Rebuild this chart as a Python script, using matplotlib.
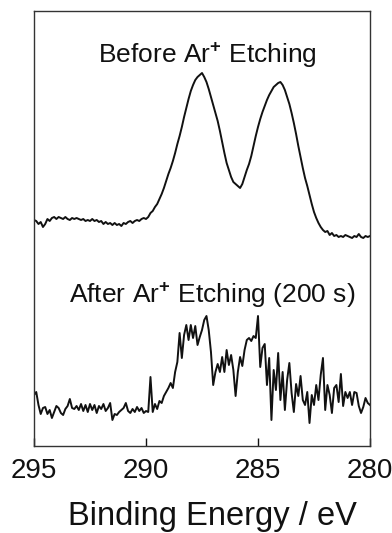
import numpy as np
import matplotlib
matplotlib.use("Agg")
import matplotlib.pyplot as plt

plt.rcParams['font.family'] = ['Liberation Sans', 'DejaVu Sans']
plt.rcParams['mathtext.fontset'] = 'custom'
plt.rcParams['mathtext.rm'] = 'Liberation Sans'
plt.rcParams['mathtext.bf'] = 'Liberation Sans:bold'
plt.rcParams['mathtext.default'] = 'regular'

# Binding energy grid (eV), 295 -> 280 in 0.1 eV steps
binding_energy = np.round(np.linspace(295.0, 280.0, 151), 2)

# Intensities (arbitrary units)
before_etching = [
    226, 225, 222, 224, 219, 222, 227, 225, 228, 229,
    227, 229, 228, 227, 229, 227, 226, 228, 227, 228,
    227, 226, 227, 225, 226, 225, 227, 225, 226, 224,
    225, 222, 224, 222, 223, 221, 223, 221, 222, 220,
    223, 222, 224, 225, 223, 225, 226, 225, 227, 228,
    227, 229, 233, 235, 239, 242, 247, 252, 258, 265,
    272, 278, 285, 293, 302, 310, 319, 329, 338, 347,
    355, 361, 366, 369, 371, 373, 369, 364, 357, 349,
    341, 333, 325, 315, 304, 293, 283, 276, 269, 264,
    262, 260, 258, 262, 269, 276, 282, 290, 300, 310,
    319, 327, 334, 340, 346, 351, 355, 359, 361, 363,
    364, 361, 356, 349, 342, 333, 323, 312, 300, 289,
    278, 268, 260, 251, 242, 234, 228, 223, 219, 216,
    214, 215, 211, 213, 210, 211, 209, 210, 209, 211,
    210, 209, 208, 210, 209, 212, 209, 208, 210, 209,
    210,
]

after_etching = [
    51, 54, 41, 32, 38, 39, 32, 36, 28, 34,
    40, 38, 33, 31, 37, 40, 47, 38, 37, 40,
    36, 42, 35, 41, 34, 42, 36, 41, 33, 40,
    37, 42, 35, 38, 43, 26, 32, 31, 34, 36,
    38, 43, 35, 33, 37, 34, 39, 35, 38, 33,
    35, 34, 69, 34, 42, 37, 45, 43, 50, 54,
    58, 63, 58, 74, 84, 113, 88, 111, 121, 106,
    121, 108, 120, 101, 109, 116, 126, 130, 116, 94,
    61, 74, 82, 74, 89, 74, 96, 81, 91, 76,
    50, 74, 89, 80, 96, 106, 108, 105, 110, 108,
    130, 79, 98, 102, 61, 88, 26, 76, 56, 93,
    46, 74, 36, 66, 83, 53, 34, 62, 50, 70,
    46, 41, 54, 23, 51, 41, 61, 46, 71, 88,
    36, 61, 51, 33, 58, 61, 44, 72, 40, 54,
    48, 54, 41, 54, 53, 40, 33, 39, 48, 43,
    41,
]

x_ticks = [295, 290, 285, 280]
x_tick_labels = ["295", "290", "285", "280"]
label_before = "Before Ar$^{\\mathbf{+}}$ Etching"
label_after = "After Ar$^{\\mathbf{+}}$ Etching (200 s)"
x_label = "Binding Energy / eV"

W, H = 392, 533
fig = plt.figure(figsize=(W / 100, H / 100), dpi=100)
ax = fig.add_axes([34 / W, 1 - 446 / H, (370 - 34) / W, (446 - 11) / H])

ax.plot(binding_energy, before_etching, color='#111111', lw=1.4)
ax.plot(binding_energy, after_etching, color='#111111', lw=1.4)

ax.set_xlim(295, 280)
ax.set_ylim(0, 435)
ax.set_yticks([])
ax.set_xticks(x_ticks)
ax.set_xticklabels(x_tick_labels, fontsize=20)
ax.tick_params(axis='x', direction='in', length=6, width=1.0, pad=9,
               colors='#111111', labelcolor='#111111')
for s in ax.spines.values():
    s.set_linewidth(1.0)
    s.set_color('#333333')

ax.text((207 - 34) / (370 - 34), 1 - (63 - 11) / 435, label_before,
        transform=ax.transAxes, ha='center', va='baseline',
        fontsize=19, color='#111111')
ax.text((212 - 34) / (370 - 34), 1 - (303 - 11) / 435, label_after,
        transform=ax.transAxes, ha='center', va='baseline',
        fontsize=19, color='#111111')

fig.text(212 / W, 1 - 525 / H, x_label, ha='center', va='baseline',
         fontsize=23.5, color='#111111')

fig.savefig("out.png", dpi=100)
